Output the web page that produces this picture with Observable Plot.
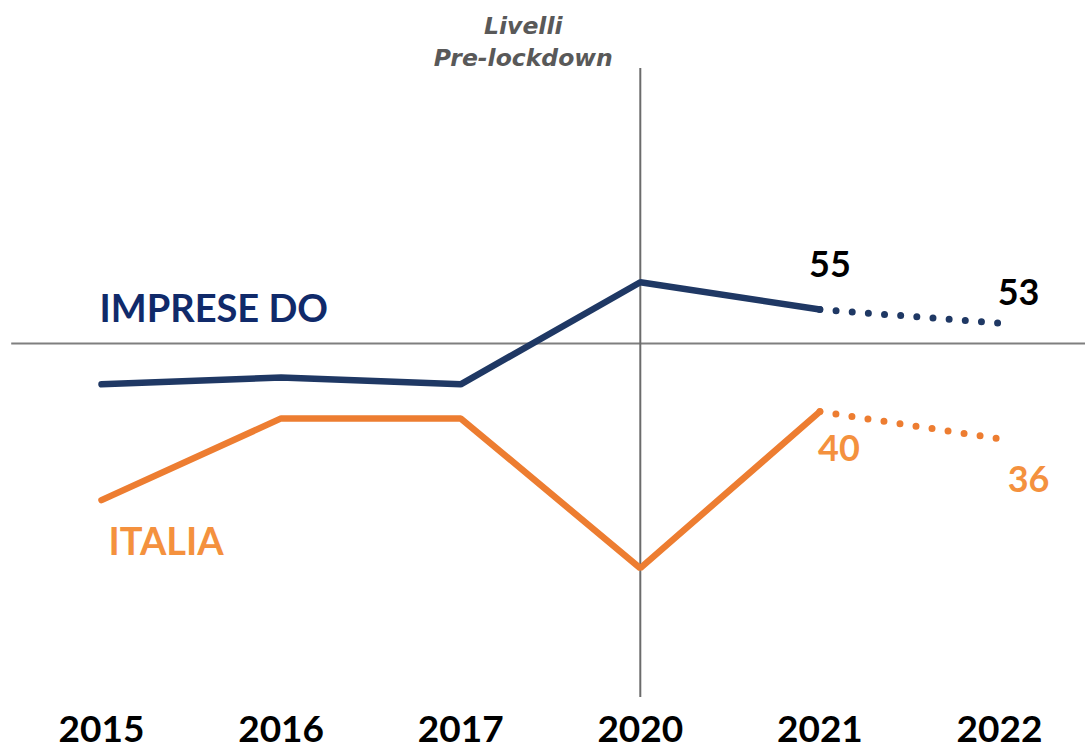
<!DOCTYPE html>
<html><head><meta charset="utf-8">
<script src="https://cdn.jsdelivr.net/npm/d3@7"></script>
<script src="https://cdn.jsdelivr.net/npm/@observablehq/plot@0.6"></script>
<style>
html,body{margin:0;padding:0;background:#fff;}
#chart svg{display:block;}
</style>
</head><body><div id="chart"></div>
<script>
// ---- data ----
const years = ["2015", "2016", "2017", "2020", "2021", "2022"];
const impreseDO = [44, 45, 44, 59, 55, 53];
const italia = [27, 39, 39, 17, 40, 36];
const seriesNames = ["IMPRESE DO", "ITALIA"];
const referenceLevel = 50;          // horizontal reference line
const lockdownYear = "2020";        // vertical reference line
const annotationLines = ["Livelli", "Pre-lockdown"];
const forecastFrom = 4;             // index from which the series is dotted (2021 -> 2022)

// ---- table ----
const rows = [];
years.forEach((y, i) => {
  rows.push({i, year: y, value: impreseDO[i], series: seriesNames[0]});
  rows.push({i, year: y, value: italia[i], series: seriesNames[1]});
});
const solid = rows.filter(d => d.i <= forecastFrom);
const dotted = rows.filter(d => d.i >= forecastFrom);
const lockIdx = years.indexOf(lockdownYear);

const NAVY = "#1F3864", NAVY_TXT = "#102A6A", ORANGE = "#ED7D31", ORANGE_TXT = "#F4913E", GRAY = "#7F7F7F";
const colorOf = s => s === seriesNames[0] ? NAVY : ORANGE;

const pick = (s, i) => rows.filter(d => d.series === s && d.i === i);

const chart = Plot.plot({
  width: 1085,
  height: 748,
  marginTop: 68,
  marginBottom: 51,
  marginLeft: 101,
  marginRight: 86,
  style: {fontFamily: "Lato, 'DejaVu Sans', sans-serif", background: "#fff", overflow: "visible"},
  x: {type: "linear", domain: [0, years.length - 1], axis: null},
  y: {domain: [-2, 90.4], axis: null},
  marks: [
    Plot.ruleY([referenceLevel], {x1: -0.5, x2: years.length - 0.5, stroke: GRAY, strokeWidth: 2}),
    Plot.ruleX([lockIdx], {stroke: "#6b6b6b", strokeWidth: 2}),
    Plot.line(solid, {x: "i", y: "value", z: "series", stroke: d => colorOf(d.series),
      strokeWidth: 6.5, strokeLinecap: "round", strokeLinejoin: "miter"}),
    Plot.line(dotted, {x: "i", y: "value", z: "series", stroke: d => colorOf(d.series),
      strokeWidth: 7, strokeLinecap: "round", strokeDasharray: "0,16.2"}),
    // x axis labels
    Plot.axisX({ticks: d3.range(years.length), tickFormat: i => years[i], tickSize: 0, tickPadding: 18,
      fontSize: 37, fontWeight: "bold", fill: "#000", label: null}),
    // series names
    Plot.text(pick(seriesNames[0], 0), {x: "i", y: "value", text: "series", textAnchor: "start", lineAnchor: "bottom",
      dx: -2, dy: -62, fill: NAVY_TXT, fontSize: 38, fontWeight: "bold"}),
    Plot.text(pick(seriesNames[1], 0), {x: "i", y: "value", text: "series", textAnchor: "start", lineAnchor: "bottom",
      dx: 7, dy: 55, fill: ORANGE_TXT, fontSize: 38, fontWeight: "bold"}),
    // value labels
    Plot.text(pick(seriesNames[0], 4), {x: "i", y: "value", text: d => String(d.value), lineAnchor: "bottom",
      dx: 10, dy: -32, fill: "#000", fontSize: 36, fontWeight: "bold"}),
    Plot.text(pick(seriesNames[0], 5), {x: "i", y: "value", text: d => String(d.value), lineAnchor: "bottom",
      dx: 19, dy: -18, fill: "#000", fontSize: 36, fontWeight: "bold"}),
    Plot.text(pick(seriesNames[1], 4), {x: "i", y: "value", text: d => String(d.value), lineAnchor: "bottom",
      dx: 19, dy: 49, fill: ORANGE_TXT, fontSize: 36, fontWeight: "bold"}),
    Plot.text(pick(seriesNames[1], 5), {x: "i", y: "value", text: d => String(d.value), lineAnchor: "bottom",
      dx: 29, dy: 53, fill: ORANGE_TXT, fontSize: 36, fontWeight: "bold"}),
    // annotation above the vertical line
    Plot.text([annotationLines[0]], {x: lockIdx, frameAnchor: "top", text: d => d, lineAnchor: "bottom",
      dx: -117, dy: -35, fill: "#595959", fontSize: 23.5, fontWeight: "bold", fontStyle: "italic",
      fontFamily: "'DejaVu Sans', sans-serif"}),
    Plot.text([annotationLines[1]], {x: lockIdx, frameAnchor: "top", text: d => d, lineAnchor: "bottom",
      dx: -117, dy: -3, fill: "#595959", fontSize: 23.5, fontWeight: "bold", fontStyle: "italic",
      fontFamily: "'DejaVu Sans', sans-serif"})
  ]
});
document.getElementById("chart").appendChild(chart);
</script>
</body></html>
